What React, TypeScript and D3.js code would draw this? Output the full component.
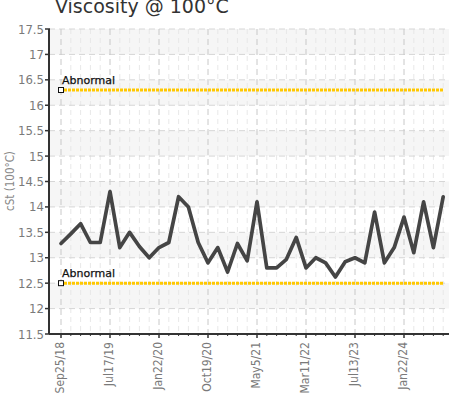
import React from "react";
import * as d3 from "d3";

const title = "Viscosity @ 100°C";
const yTitle = "cSt (100°C)";
const values = [
  13.28, 13.47, 13.67, 13.3, 13.3, 14.3, 13.2, 13.5, 13.22, 13.0,
  13.2, 13.3, 14.2, 14.0, 13.3, 12.9, 13.2, 12.72, 13.28, 12.94,
  14.1, 12.8, 12.8, 12.97, 13.4, 12.8, 13.0, 12.9, 12.62, 12.92,
  13.0, 12.9, 13.9, 12.9, 13.2, 13.8, 13.1, 14.1, 13.2, 14.2,
];
const tickLabels = ["Sep25/18", "Jul17/19", "Jan22/20", "Oct19/20", "May5/21", "Mar11/22", "Jul13/23", "Jan22/24"];
const tickStep = 5;
const abnormalLimits = [16.3, 12.5];
const abnormalLabel = "Abnormal";
const yTicks = d3.range(11.5, 17.51, 0.5);

const W = 449;
const H = 410;
const left = 49;
const right = 455;
const top = 29;
const bottom = 334;

export default function App() {
  const x = d3.scaleLinear().domain([0, values.length - 1]).range([61, 443.2]);
  const y = d3.scaleLinear().domain([11.5, 17.5]).range([bottom, top]);
  const line = d3.line<number>().x((_, i) => x(i)).y((d) => y(d));
  const cond = "'DejaVu Sans Condensed', 'DejaVu Sans', sans-serif";
  const bands = d3.range(0, yTicks.length - 1);
  return (
    <svg width={W} height={H} style={{ position: "absolute", left: 0, top: 0, background: "#fff" }}>
      {bands.map((b) => {
        const hi = 17.5 - b * 0.5;
        return b % 2 === 0 ? (
          <rect key={"b" + b} x={left} y={y(hi)} width={right - left} height={y(hi - 0.5) - y(hi)} fill="#f6f6f6" />
        ) : null;
      })}
      {values.map((_, i) =>
        i % tickStep === 0 ? null : (
          <line key={"mv" + i} x1={x(i)} x2={x(i)} y1={top} y2={bottom} stroke="#e8e8e8" strokeWidth={1} strokeDasharray="5,4" />
        )
      )}
      {yTicks.map((t) => (
        <line key={"hg" + t} x1={left} x2={right} y1={y(t)} y2={y(t)} stroke="#d6d6d6" strokeWidth={1} strokeDasharray="6,4" />
      ))}
      {tickLabels.map((_, k) => (
        <line key={"vg" + k} x1={x(k * tickStep)} x2={x(k * tickStep)} y1={top} y2={bottom} stroke="#c8c8c8" strokeWidth={1} strokeDasharray="6,4" />
      ))}
      {abnormalLimits.map((v, k) => (
        <g key={"ab" + k}>
          <line x1={x(0) + 3} x2={x(values.length - 1)} y1={y(v)} y2={y(v)} stroke="#ffc800" strokeWidth={3} strokeDasharray="3,1" />
          <rect x={x(0) - 2.5} y={y(v) - 2.5} width={5} height={5} fill="#fff" stroke="#111" strokeWidth={1} />
          <text x={x(0) + 1} y={y(v) - 6} fontFamily="'DejaVu Sans', sans-serif" fontSize={11} fill="#111" stroke="#111" strokeWidth={0.25}>
            {abnormalLabel}
          </text>
        </g>
      ))}
      <path d={line(values) || ""} fill="none" stroke="#454545" strokeWidth={3.7} strokeLinejoin="round" strokeLinecap="round" />
      <line x1={left} x2={left} y1={top} y2={bottom} stroke="#333" strokeWidth={2} />
      <line x1={left} x2={right} y1={bottom} y2={bottom} stroke="#333" strokeWidth={2} />
      {yTicks.map((t) => (
        <g key={"yt" + t}>
          <line x1={left - 4} x2={left + 1} y1={y(t)} y2={y(t)} stroke="#333" strokeWidth={1.5} />
          <text x={left - 5} y={y(t) + 4.5} textAnchor="end" fontFamily={cond} fontStretch="condensed" fontSize={13} fill="#7a7a7a">
            {String(t)}
          </text>
        </g>
      ))}
      {values.map((_, i) => (
        <line key={"xt" + i} x1={x(i)} x2={x(i)} y1={bottom - 1} y2={bottom + (i % tickStep === 0 ? 4 : 2)} stroke="#333" strokeWidth={i % tickStep === 0 ? 1.5 : 1} />
      ))}
      {tickLabels.map((lab, k) => (
        <text
          key={"xl" + k}
          transform={`translate(${x(k * tickStep) + 3},${bottom + 8}) rotate(-90)`}
          textAnchor="end"
          fontFamily={cond}
          fontStretch="condensed"
          fontSize={12}
          fill="#7a7a7a"
        >
          {lab}
        </text>
      ))}
      <text transform={`translate(14,181) rotate(-90)`} textAnchor="middle" fontFamily={cond} fontStretch="condensed" fontSize={11.5} fill="#8a8a8a">
        {yTitle}
      </text>
      <text x={55} y={13} fontFamily="'DejaVu Sans', sans-serif" fontSize={19} fill="#333">
        {title}
      </text>
    </svg>
  );
}
